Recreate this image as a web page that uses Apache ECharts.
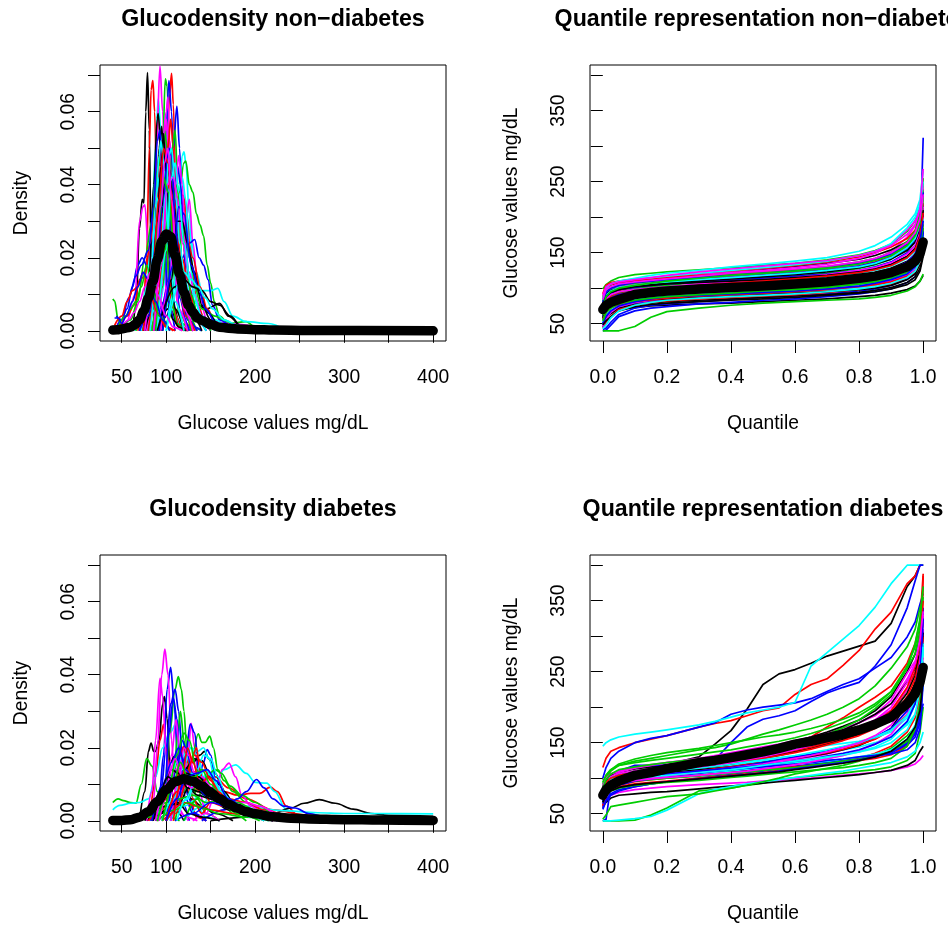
<!DOCTYPE html>
<html><head><meta charset="utf-8">
<style>html,body{margin:0;padding:0;background:#fff}#c{width:948px;height:926px}</style>
<script src="https://cdn.jsdelivr.net/npm/echarts@6/dist/echarts.min.js"></script>
</head><body><div id="c"></div>
<script>
const palette = ['#000000','#ff0000','#00cd00','#0000ff','#00ffff','#ff00ff'];

const densityTicksX = [50,100,150,200,250,300,350,400];
const densityLabelsX = [50,100,200,300,400];
const densityTicksY = [0,.01,.02,.03,.04,.05,.06,.07];
const densityLabelsY = [0,.02,.04,.06];
const quantileTicksX = [0,.2,.4,.6,.8,1];
const quantileTicksY = [50,100,150,200,250,300,350,400];
const quantileLabelsY = [50,150,250,350];

// flat x,y lists; colours cycle through the palette in order
const densityNonDiabetes = [
[62,0,66,.006,70,.028,73,.036,75,.035,77,.06,79,.0707,81,.055,83,.02,86,.004,92,0],
[68,0,74,.004,78,.02,81,.05,83,.066,85,.0685,87,.06,90,.03,94,.008,100,.001,108,0],
[40,.0087,42,.0082,46,.003,50,.0005,60,.001,70,.003,80,.005,90,.008,100,.03,108,.038,112,.03,120,.008,130,.001,140,0],
[44,.004,50,.003,56,.006,62,.012,68,.018,73,.02,78,.018,84,.024,90,.038,96,.046,100,.03,106,.01,114,.002,122,0],
[58,0,70,.003,78,.012,84,.03,88,.05,91,.0635,94,.055,98,.03,104,.012,112,.003,122,0],
[45,.002,55,.002,65,.01,70,.03,74,.034,76,.0345,80,.022,85,.018,89,.05,93,.0725,96,.06,100,.028,106,.007,114,.001,124,0],
[60,0,72,.002,80,.012,86,.04,90,.058,91,.0595,94,.05,98,.028,104,.008,112,.002,120,0],
[82,0,90,.004,96,.02,100,.045,104,.065,106,.0705,108,.062,111,.035,115,.012,122,.002,130,0],
[78,0,86,.006,92,.025,96,.05,99,.069,101,.067,104,.045,108,.02,114,.005,124,0],
[84,0,92,.006,97,.03,100,.055,103,.0685,106,.06,110,.03,115,.009,124,.001,130,0],
[88,0,100,.006,108,.018,114,.035,118,.048,120,.049,122,.046,126,.032,130,.016,136,.006,146,.001,160,0],
[80,0,88,.006,92,.02,97,.042,100,.058,103,.05,107,.028,112,.008,120,.001,130,0],
[72,0,82,.008,88,.03,92,.05,95,.056,98,.042,102,.022,108,.007,116,.001,124,0],
[76,0,84,.006,88,.02,92,.045,95,.052,98,.04,102,.018,108,.005,118,0],
[82,0,92,.002,100,.008,108,.02,114,.036,120,.046,122,.0465,126,.04,130,.038,134,.032,138,.029,142,.026,146,.018,150,.013,154,.008,160,.004,170,.002,190,.0025,200,.001,230,0],
[86,0,98,.008,104,.028,108,.05,112,.0615,115,.05,119,.025,124,.008,132,.001,140,0],
[70,0,90,.006,105,.02,112,.03,120,.037,128,.025,134,.016,140,.011,150,.011,158,.0116,165,.008,175,.004,190,.0025,215,.002,235,0],
[84,0,96,.006,104,.02,110,.032,116,.032,122,.03,126,.036,130,.024,136,.01,146,.003,170,.002,220,0],
[90,0,102,.006,108,.02,113,.03,116,.032,120,.03,125,.022,132,.016,140,.007,150,.003,165,.001,180,0],
[92,0,104,.012,110,.03,115,.038,119,.037,123,.032,128,.018,135,.007,145,.002,160,0],
[80,0,90,.015,95,.04,98,.055,101,.05,105,.03,110,.012,118,.002,126,0],
[88,0,100,.004,110,.012,118,.02,126,.024,132,.025,137,.02,142,.018,147,.014,152,.007,160,.003,175,.001,190,0],
[76,0,84,.01,88,.03,92,.042,96,.038,100,.02,106,.006,116,0],
[90,0,98,.014,102,.03,105,.048,108,.05,112,.035,116,.018,122,.005,132,0],
[60,0,75,.004,85,.012,95,.02,103,.022,110,.018,120,.012,130,.008,145,.006,160,.0075,170,.004,185,0],
[48,.001,56,.004,64,.007,70,.014,76,.015,82,.024,88,.036,94,.04,99,.025,106,.008,115,.001,125,0],
[50,.001,60,.003,68,.008,76,.02,84,.03,90,.044,94,.048,98,.035,104,.012,112,.002,120,0],
[44,.001,50,.003,58,.009,66,.015,72,.018,80,.022,86,.034,90,.052,93,.055,97,.03,102,.008,110,0],
[65,0,80,.006,92,.02,100,.03,104,.04,107,.036,112,.025,120,.014,128,.01,135,.012,145,.006,155,.003,170,.001,185,0],
[86,0,94,.01,100,.034,104,.052,107,.044,110,.03,116,.012,124,.003,134,0],
[94,0,100,.004,104,.005,108,.003,114,.001,122,0],
[70,0,90,.012,100,.024,108,.03,114,.037,120,.034,124,.025,130,.02,138,.012,146,.006,156,.002,170,0],
[95,0,103,.003,110,.014,116,.025,120,.03,126,.02,132,.012,140,.006,155,.004,165,.003,180,0],
[70,0,80,.006,85,.02,90,.03,94,.042,98,.048,103,.035,108,.02,116,.005,126,0],
[100,0,108,.01,114,.03,118,.042,122,.036,126,.02,132,.008,142,.002,150,0],
[78,0,86,.008,90,.026,96,.052,100,.06,102,.064,104,.05,108,.025,114,.006,124,0],
[74,0,84,.01,90,.03,94,.045,97,.054,100,.04,104,.02,110,.006,120,0],
[86,0,94,.012,98,.03,102,.05,105,.058,108,.05,112,.028,118,.008,128,0],
[88,0,96,.012,102,.032,107,.05,110,.055,113,.04,118,.018,124,.005,134,0],
[92,0,102,.012,108,.032,113,.045,116,.04,120,.028,126,.012,134,.003,145,0],
[72,0,82,.012,88,.034,92,.048,94,.052,98,.044,103,.024,110,.008,120,0],
[94,0,104,.014,110,.036,114,.048,118,.04,122,.022,128,.009,138,.002,150,0],
[76,0,85,.006,92,.024,98,.04,104,.044,109,.034,114,.022,120,.012,128,.005,140,0],
[80,0,90,.012,96,.032,101,.04,106,.038,112,.026,118,.02,124,.014,132,.006,145,.001,160,0],
[84,0,92,.01,100,.026,107,.034,112,.04,116,.032,122,.02,128,.01,136,.004,150,0],
[70,0,80,.004,88,.016,96,.034,103,.05,106,.048,110,.03,116,.012,124,.003,135,0],
[82,0,92,.016,100,.038,103,.048,106,.05,110,.04,115,.024,122,.01,130,.004,145,0],
[86,0,95,.018,101,.04,108,.042,113,.036,118,.024,126,.016,132,.01,140,.004,155,0],
[96,0,106,.014,112,.03,118,.03,124,.024,130,.016,138,.01,146,.005,160,0],
[74,0,84,.014,92,.036,97,.05,102,.046,108,.026,114,.012,122,.004,132,0],
[66,0,76,.005,84,.012,92,.03,97,.042,102,.038,110,.02,118,.008,128,0],
[96,0,108,.018,114,.034,120,.032,128,.018,136,.012,144,.006,156,.002,170,0],
[90,0,100,.022,106,.042,110,.046,114,.038,120,.024,128,.012,140,.004,155,0],
[76,0,86,.014,94,.034,98,.046,102,.05,106,.036,112,.018,120,.006,130,0],
[90,0,110,.012,120,.014,130,.012,140,.011,150,.008,160,.007,172,.004,185,.001,200,0],
[42,.0015,50,.004,56,.008,62,.011,68,.012,74,.016,80,.012,90,.005,100,.001,110,0],
[46,.001,54,.004,60,.006,66,.008,72,.012,78,.018,84,.012,92,.004,104,0],
[42,.0035,46,.0035,50,.002,55,.004,62,.008,68,.012,74,.016,80,.014,88,.008,96,.003,104,0],
[100,0,120,.016,128,.014,136,.012,144,.009,152,.006,165,.003,180,.0015,200,0],
[50,.001,58,.003,64,.005,70,.008,76,.012,82,.016,90,.01,100,.004,108,.001,118,0]
];
const densityNonDiabetesMean = [40,.0002,45,.0003,50,.0005,60,.001,65,.0017,70,.003,75,.0055,80,.009,85,.0135,90,.0195,95,.0245,100,.0265,105,.0258,110,.0205,115,.0155,120,.0105,125,.007,130,.005,135,.0035,140,.0028,150,.0017,160,.001,170,.0007,180,.0005,200,.0003,220,.0002,260,.0001,400,0];

const densityDiabetes = [
[70,0,76,.008,80,.019,83,.0213,86,.019,88,.019,92,.022,96,.032,98,.034,101,.028,105,.01,110,.003,120,0],
[72,0,82,.004,88,.012,93,.022,97,.0264,100,.02,104,.012,108,.012,112,.016,116,.019,120,.0204,123,.015,127,.006,134,.001,145,0],
[40,.005,46,.006,52,.0055,60,.005,66,.0048,72,.01,78,.017,84,.015,90,.008,96,.003,104,.001,115,0],
[85,0,92,.006,97,.018,101,.036,105,.042,109,.032,113,.016,118,.005,126,0],
[40,.003,48,.0042,60,.0048,70,.005,80,.006,88,.012,96,.02,104,.024,113,.0275,118,.022,124,.012,132,.005,145,.001,160,0],
[80,0,86,.006,90,.02,95,.04,98.5,.047,102,.04,106,.022,110,.008,116,.002,125,0],
[78,0,90,.002,100,.01,105,.016,109,.0176,114,.015,120,.01,128,.006,140,.004,155,.002,175,0],
[90,0,105,.002,115,.008,125,.011,135,.008,150,.009,165,.008,180,.007,195,.0075,205,.0075,217,.0092,225,.008,235,.004,250,.001,270,0],
[88,0,98,.008,104,.024,110,.036,113.6,.0395,117,.036,120,.03,123,.02,128,.012,135,.006,145,.002,160,0],
[82,0,94,.008,100,.02,105,.032,110,.036,114,.03,118,.018,124,.007,132,.002,145,0],
[120,0,140,.004,155,.01,165,.014,178,.0153,190,.013,200,.0105,213,.0103,222,.008,235,.003,250,.0005,265,0],
[78,0,84,.008,88,.022,93,.039,96,.034,100,.018,106,.008,112,.004,122,.001,135,0],
[150,0,190,.001,220,.002,240,.0035,255,.0048,272,.0058,290,.0048,310,.0032,330,.002,350,.0015,400,.0012],
[80,0,95,.003,110,.01,125,.013,140,.014,155,.012,170,.009,190,.006,220,.003,260,.0015,300,.001,400,.0008],
[100,0,108,.01,113,.024,116,.03,120,.022,125,.012,132,.008,140,.01,150,.012,160,.006,175,.002,190,0],
[90,0,98,.006,103,.024,108,.0336,112,.028,116,.014,122,.006,130,.002,145,0],
[100,0,120,.004,140,.007,160,.006,190,.004,230,.0028,270,.0022,300,.002,340,.002,400,.0019],
[90,0,100,.006,106,.018,111,.0277,115,.02,119,.012,124,.016,128,.0267,132,.02,137,.008,145,.002,160,0],
[85,0,100,.006,110,.012,120,.014,130,.016,138,.018,143,.019,148,.017,151,.016,155,.013,165,.008,180,.003,200,.001,220,0],
[100,0,110,.006,116,.018,120,.0204,124,.016,130,.006,140,.002,150,.005,160,.006,180,.003,210,.001,240,0],
[110,0,120,.008,128,.016,136,.0238,140,.0215,144,.0215,149,.0232,153,.02,158,.014,165,.011,175,.008,190,.005,210,.002,240,0],
[105,0,115,.006,122,.018,127,.0265,132,.024,137,.012,142,.016,146,.0195,150,.018,156,.01,165,.006,185,.003,205,.001,225,0],
[95,0,108,.006,118,.014,128,.02,135,.019,142,.02,148,.017,155,.011,165,.006,180,.003,200,.001,220,0],
[130,0,145,.002,155,.007,163,.014,170.6,.0158,178,.012,185,.007,195,.004,210,.002,230,0],
[88,0,100,.003,112,.008,122,.014,130,.017,140,.0165,150,.012,160,.01,170,.006,190,.002,220,0],
[60,0,80,.002,95,.005,110,.01,125,.0105,140,.008,155,.007,170,.006,190,.005,210,.003,240,.0012,280,.0005],
[120,0,135,.006,145,.012,155,.014,162,.013,172,.0095,185,.007,200,.005,220,.002,240,0],
[140,0,165,.003,180,.006,190,.008,201.5,.0113,210,.009,220,.006,232,.004,245,.0035,260,.002,280,.001,300,0],
[90,0,105,.012,112,.016,120,.018,128,.02,135,.018,142,.012,150,.008,165,.005,185,.002,210,0],
[95,0,105,.004,115,.008,125,.01,135,.014,145,.01,155,.006,170,.005,190,.005,205,.004,225,.002,250,0],
[70,0,85,.003,100,.004,115,.005,125,.009,135,.007,150,.006,170,.003,200,.001,230,0],
[95,0,110,.002,125,.012,130,.018,134,.02,138,.014,142,.008,150,.005,165,.004,185,.002,210,0],
[60,0,80,.001,100,.005,115,.006,130,.007,145,.005,165,.006,180,.005,200,.003,225,.001,250,0],
[100,0,112,.014,118,.022,122,.02,130,.013,140,.012,150,.008,165,.005,180,.003,200,.001,220,0],
[104,0,125,.006,135,.014,142,.018,150,.017,158,.012,168,.006,185,.002,210,0],
[105,0,115,.012,120,.02,125,.018,132,.013,140,.01,150,.008,165,.006,185,.003,210,.001,240,0],
[84,0,95,.002,105,.0045,115,.0045,125,.002,140,.001,160,0],
[100,0,120,.005,135,.004,150,.003,175,.002,210,.001,250,0],
[90,0,110,.003,125,.005,140,.0035,160,.002,190,.001,220,0],
[110,0,130,.002,150,.005,170,.004,190,.002,220,.001,260,0],
[95,0,108,.006,118,.012,128,.013,140,.012,150,.013,160,.008,175,.004,195,.001,215,0],
[92,0,102,.008,110,.014,118,.015,128,.012,140,.011,155,.006,175,.003,200,.001,225,0],
[84,0,96,.006,106,.014,114,.013,124,.009,136,.008,150,.006,170,.004,195,.002,225,0],
[100,0,112,.008,122,.013,132,.018,140,.016,150,.011,162,.007,180,.004,205,.002,235,0],
[90,0,102,.008,112,.018,120,.024,126,.022,134,.014,144,.009,160,.005,180,.002,205,0],
[84,0,96,.01,106,.016,114,.02,122,.014,132,.01,145,.007,165,.004,190,.002,220,0],
[112,0,122,.006,134,.012,144,.014,152,.012,162,.008,175,.005,195,.002,225,0],
[88,0,100,.01,110,.017,118,.012,128,.009,140,.012,152,.009,168,.005,190,.002,220,0],
[76,0,90,.006,102,.012,112,.01,122,.013,136,.012,150,.009,170,.004,200,.001,230,0],
[108,0,118,.012,124,.02,130,.016,138,.01,148,.012,158,.008,175,.004,195,.002,220,0],
[96,0,108,.01,116,.016,124,.012,132,.012,140,.014,150,.01,165,.005,190,.002,215,0],
[100,0,112,.006,122,.012,134,.013,146,.014,156,.011,170,.006,190,.003,215,.001,240,0]
];
const densityDiabetesMean = [40,.0001,50,.0001,60,.0003,70,.001,80,.0025,90,.0053,100,.0085,110,.0107,120,.0115,130,.0108,140,.0095,150,.0076,160,.006,170,.0045,180,.0034,190,.0025,200,.0019,220,.0011,240,.0007,260,.0005,300,.0003,340,.0002,400,.0001];

const quantileGridNonDiabetes = [0,.01,.025,.05,.1,.15,.2,.3,.4,.5,.6,.7,.8,.85,.9,.95,.975,.99,1];
const quantileNonDiabetes = [
[55,62,66,70,73,75,76,78,79,81,83,85,88,90,93,98,103,110,118],
[60,72,78,84,89,92,94,97,100,103,106,110,115,119,124,133,143,160,180],
[99,105,110,115,119,121,123,126,129,132,135,140,147,153,162,180,195,215,240],
[40,41,48,60,68,72,74,78,80,83,85,88,92,95,99,108,116,165,312],
[80,96,104,110,114,118,121,125,130,134,138,143,152,160,172,190,205,225,265],
[62,75,80,84,88,90,92,95,98,100,103,106,110,113,117,125,135,150,172],
[65,80,86,92,97,99,101,105,108,111,114,118,124,128,134,145,155,172,205],
[70,85,92,97,101,104,106,109,112,116,120,125,132,137,145,158,170,188,225],
[40,40,40,40,46,59,67,72,76,79,81,83,85,87,90,96,102,110,120],
[45,60,68,74,79,82,84,87,90,93,95,98,102,105,110,118,128,142,170],
[52,66,74,80,84,87,89,92,95,97,100,103,107,110,114,124,132,148,180],
[75,90,97,102,106,108,110,113,116,119,122,126,133,140,152,172,188,205,240],
[85,100,105,108,110,112,114,118,122,126,130,135,141,146,154,165,176,195,235],
[92,104,108,110,112,114,116,120,124,128,132,137,144,150,158,170,182,200,250],
[58,68,74,79,83,85,87,90,93,95,98,101,105,108,113,122,130,145,175],
[42,44,52,63,72,76,78,81,84,87,89,92,96,99,104,113,122,135,160],
[68,80,87,92,96,98,100,103,106,109,112,116,121,125,131,142,152,168,200],
[56,70,76,81,85,88,90,93,96,99,101,104,109,112,117,126,135,150,190],
[72,84,90,94,97,100,102,104,106,108,110,113,118,122,128,138,146,160,185],
[62,76,82,87,91,93,95,98,100,102,104,108,113,117,123,134,144,160,210],
[66,80,88,94,99,102,104,108,111,114,117,121,128,133,141,155,170,195,238],
[70,86,93,99,103,106,108,112,115,118,121,125,131,136,143,156,168,182,220],
[48,60,69,77,82,84,86,88,90,92,94,97,101,104,109,118,127,142,175],
[78,92,98,103,108,111,114,119,122,125,129,134,142,149,162,182,195,210,245],
[50,58,64,72,77,79,81,83,85,87,89,91,94,97,101,108,116,128,150],
[88,100,105,108,111,113,115,118,120,123,126,130,136,141,148,160,172,190,220],
[60,70,77,82,86,89,91,94,97,99,102,105,110,114,120,130,140,155,185],
[74,88,94,98,101,104,106,109,111,114,117,120,125,130,137,150,160,175,205],
[55,64,72,78,84,87,89,91,93,95,97,100,104,107,112,120,128,140,165],
[64,78,84,89,93,95,97,100,103,105,107,110,115,119,125,136,146,165,200],
[78,92,97,100,103,105,107,110,113,116,119,123,129,134,141,153,165,180,215],
[44,52,60,70,76,80,82,85,87,89,91,94,98,101,106,115,122,136,168],
[82,95,100,104,107,110,112,116,119,122,125,130,137,142,150,166,180,205,255],
[60,74,80,85,90,92,94,96,98,100,102,105,108,112,116,126,134,150,178],
[76,90,96,101,104,107,109,112,115,118,121,125,130,135,143,157,170,192,228],
[46,56,66,74,80,83,85,88,91,94,96,99,103,106,110,118,126,140,162],
[58,70,76,80,82,84,85,87,89,91,93,95,98,100,104,112,120,134,160],
[70,82,88,92,95,97,99,102,104,106,108,111,116,120,126,136,148,165,195],
[62,74,80,85,88,90,92,94,96,98,100,102,106,109,114,122,132,148,172],
[80,94,100,104,108,110,112,115,118,121,124,128,135,140,148,162,175,195,235],
[86,100,106,110,113,115,117,121,125,129,133,138,146,152,163,185,200,218,250],
[72,85,91,95,98,100,102,106,109,112,115,119,125,129,136,148,160,178,215],
[76,88,94,98,102,104,106,108,110,112,115,118,123,127,133,144,156,174,210],
[56,66,72,77,81,84,86,89,91,93,95,98,102,105,109,117,124,137,158],
[74,88,95,100,104,107,110,114,118,121,124,128,134,139,146,160,174,192,228],
[50,60,68,75,81,85,88,90,92,94,96,99,103,107,112,120,130,145,180],
[64,78,85,90,94,96,98,101,103,105,107,110,114,118,124,134,146,164,198],
[90,102,106,109,112,115,118,123,127,131,135,139,146,152,160,176,190,212,268],
[48,54,60,68,74,77,79,81,83,85,87,90,93,95,99,105,112,124,145],
[68,80,86,90,94,97,100,104,107,110,113,117,122,126,132,143,154,172,206],
[54,66,72,78,83,86,88,91,93,96,98,101,106,110,116,126,138,156,190],
[66,80,86,91,95,98,100,103,105,107,109,112,116,120,126,137,148,166,195],
[43,48,58,68,76,80,83,86,88,90,92,95,99,102,107,115,124,138,170],
[84,98,102,106,109,111,113,117,121,124,127,131,137,142,150,164,178,198,232]
];
const quantileNonDiabetesMean = [70,76,80,84,91,94,96,99,101,103,106,109,114,117,122,130,138,148,165];

const quantileGridDiabetes = [0,.01,.025,.05,.1,.15,.2,.3,.35,.4,.45,.5,.55,.6,.65,.7,.75,.8,.85,.9,.95,.975,.99,1];
const quantileDiabetes = [
[97,100,104,108,113,116,119,130,148,167,197,232,247,253,262,272,279,286,293,318,370,385,400,400],
[115,128,138,143,150,155,160,172,177,181,188,195,199,218,232,240,259,280,310,334,374,385,400,400],
[40,40,40,40,41,48,58,82,84,86,90,93,98,101,103,105,107,110,112,116,125,135,165,200],
[100,115,128,138,150,156,160,172,178,190,196,200,203,206,212,222,232,240,255,270,299,320,345,360],
[145,150,154,158,162,165,168,175,180,186,192,196,200,207,258,277,296,315,341,374,400,400,400,400],
[62,70,76,80,84,86,88,91,92,93,94,96,97,99,100,102,104,106,108,111,116,120,126,132],
[60,66,72,76,78,80,81,85,87,89,91,93,95,97,99,101,103,105,108,111,118,125,138,145],
[60,75,85,92,98,102,106,112,118,124,130,136,142,148,158,172,185,200,214,230,262,290,320,388],
[90,100,110,118,124,128,132,140,143,148,155,162,168,175,182,190,200,212,230,255,285,310,340,350],
[40,42,90,110,118,118,118,122,126,150,172,183,188,195,208,220,228,235,258,288,340,378,400,400],
[40,40,40,41,43,46,55,78,84,88,92,95,98,101,104,107,110,114,118,122,130,138,150,165],
[85,95,102,108,114,118,122,128,132,136,140,144,148,153,158,164,170,178,188,205,240,262,285,340],
[80,92,98,104,110,114,118,125,129,132,137,141,146,152,158,165,173,182,195,215,250,275,305,330],
[70,82,90,96,102,106,110,115,118,122,126,130,134,138,144,150,156,165,176,192,225,250,280,320],
[42,48,60,62,66,70,74,78,82,86,90,95,100,106,110,114,118,124,132,142,160,172,190,260],
[58,70,78,84,88,92,95,100,103,105,108,110,113,116,119,122,125,128,132,136,146,158,178,240],
[72,88,96,100,104,106,108,112,115,118,121,124,127,130,133,136,140,144,150,158,175,190,215,265],
[82,94,100,106,110,113,116,122,125,128,132,136,141,146,152,160,168,178,190,210,248,265,285,300],
[88,96,100,104,108,110,112,116,119,122,126,130,134,138,143,148,154,162,172,186,212,232,262,310],
[66,78,84,88,92,94,96,100,102,104,106,108,111,114,117,120,124,128,135,145,165,185,220,290],
[92,104,112,120,127,132,136,142,146,150,154,158,161,165,170,176,183,192,205,222,255,275,305,370],
[74,84,90,94,98,100,102,105,107,109,111,113,115,117,119,122,124,127,131,137,150,165,190,310],
[68,80,88,94,98,100,102,106,108,110,113,116,119,122,125,128,132,137,144,155,178,205,245,280],
[76,86,92,96,100,102,104,108,110,113,116,119,122,126,130,134,140,147,156,170,195,225,270,310],
[84,92,98,102,106,108,110,114,118,122,127,133,138,145,152,160,168,178,190,205,235,255,275,290],
[62,74,84,90,95,98,100,104,106,108,110,112,114,116,118,120,122,125,128,133,145,170,210,385],
[70,80,86,92,96,98,100,103,105,107,109,111,113,115,118,121,124,127,132,138,152,170,195,200],
[56,68,76,82,88,92,95,99,101,103,105,107,110,113,116,119,122,126,130,136,148,162,185,205],
[76,88,94,98,101,103,105,108,110,112,114,116,118,120,122,124,127,130,134,140,155,175,205,230],
[90,100,106,110,115,119,122,126,129,132,135,139,143,148,153,158,164,172,182,196,225,260,290,320],
[78,90,95,100,104,106,108,112,114,116,119,122,125,128,131,135,140,146,156,170,205,235,270,300],
[72,85,92,96,100,103,106,110,113,116,119,122,125,129,132,136,141,147,155,168,190,215,250,300],
[66,76,82,86,90,92,94,97,99,101,103,105,107,109,111,113,115,118,122,128,145,170,205,250],
[64,76,84,90,96,99,102,107,110,112,114,116,118,120,122,125,127,130,132,134,140,150,170,235],
[80,94,100,104,107,110,113,118,122,126,130,134,137,140,143,146,149,152,157,165,185,205,235,275],
[72,84,90,94,97,99,101,104,106,108,110,113,116,119,123,127,132,139,148,162,190,215,245,270],
[74,86,92,97,102,105,108,114,117,120,124,128,132,137,142,148,155,163,175,190,220,245,275,305],
[78,90,96,100,104,107,110,116,119,122,125,128,132,136,141,147,153,160,170,185,215,240,270,330],
[94,104,112,118,122,125,128,134,137,140,144,148,152,157,163,170,178,188,202,222,258,285,315,355],
[68,82,90,96,100,103,105,110,112,115,118,122,126,130,134,139,144,150,158,170,195,225,265,340],
[82,92,98,102,106,108,110,114,117,120,123,126,129,132,136,140,145,150,158,168,188,208,240,290],
[70,82,88,93,97,100,103,108,111,114,117,120,124,128,132,137,143,150,160,175,205,230,262,330],
[66,76,82,87,91,93,95,99,101,103,105,107,109,112,115,118,121,125,130,138,155,172,195,240],
[84,94,100,104,108,111,114,119,122,125,128,131,135,139,144,150,157,166,178,195,228,258,290,350],
[86,98,106,112,116,119,122,127,130,133,136,140,144,149,155,162,171,182,198,218,255,290,325,370],
[76,88,94,98,102,104,106,110,112,114,116,118,121,124,127,131,135,140,148,158,180,205,240,325],
[74,84,90,95,99,102,104,108,110,112,115,118,121,124,127,130,133,137,142,150,168,190,225,285],
[80,90,96,101,106,109,112,116,119,122,126,130,135,140,146,153,161,170,182,200,235,262,295,335]
];
const quantileDiabetesMean = [76,84,90,96,104,108,113,122,125,129,133,137,142,148,152,157,162,168,176,186,205,219,235,256];

const FONT = '"Liberation Sans", Helvetica, Arial, sans-serif';
const pairs = flat => { const o=[]; for(let i=0;i<flat.length;i+=2) o.push([flat[i],flat[i+1]]); return o; };
const onGrid = (g,ys) => ys.map((y,i)=>[g[i],y]);

const panels = [
 {title:'Glucodensity non\u2212diabetes',cx:273,left:100,top:65,xr:[25.6,414.4],yr:[-.0028,.0728],xn:'Glucose values mg/dL',yn:'Density',
  xt:densityTicksX,xl:densityLabelsX,yt:densityTicksY,yl:densityLabelsY,xf:v=>String(v),yf:v=>v.toFixed(2),
  curves:densityNonDiabetes.map(pairs),mean:pairs(densityNonDiabetesMean),smooth:true},
 {title:'Quantile representation non\u2212diabetes',cx:763,left:590,top:65,xr:[-.04,1.04],yr:[25.6,414.4],xn:'Quantile',yn:'Glucose values mg/dL',
  xt:quantileTicksX,xl:quantileTicksX,yt:quantileTicksY,yl:quantileLabelsY,xf:v=>v.toFixed(1),yf:v=>String(v),
  curves:quantileNonDiabetes.map(c=>onGrid(quantileGridNonDiabetes,c)),mean:onGrid(quantileGridNonDiabetes,quantileNonDiabetesMean),smooth:false},
 {title:'Glucodensity diabetes',cx:273,left:100,top:555,xr:[25.6,414.4],yr:[-.0028,.0728],xn:'Glucose values mg/dL',yn:'Density',
  xt:densityTicksX,xl:densityLabelsX,yt:densityTicksY,yl:densityLabelsY,xf:v=>String(v),yf:v=>v.toFixed(2),
  curves:densityDiabetes.map(pairs),mean:pairs(densityDiabetesMean),smooth:true},
 {title:'Quantile representation diabetes',cx:763,left:590,top:555,xr:[-.04,1.04],yr:[25.6,414.4],xn:'Quantile',yn:'Glucose values mg/dL',
  xt:quantileTicksX,xl:quantileTicksX,yt:quantileTicksY,yl:quantileLabelsY,xf:v=>v.toFixed(1),yf:v=>String(v),
  curves:quantileDiabetes.map(c=>onGrid(quantileGridDiabetes,c)),mean:onGrid(quantileGridDiabetes,quantileDiabetesMean),smooth:false}
];

const grid=[],xAxis=[],yAxis=[],series=[],title=[];
panels.forEach((p,i)=>{
  grid.push({left:p.left,top:p.top,width:346,height:276,show:true,borderColor:'#000',borderWidth:1,backgroundColor:'transparent'});
  title.push({text:p.title,left:p.cx,top:p.top-56.6,padding:0,textAlign:'center',textStyle:{fontFamily:FONT,fontSize:23.2,fontWeight:'bold',color:'#000'}});
  const tick={show:true,length:12,inside:false,lineStyle:{color:'#000',width:1}};
  xAxis.push({type:'value',gridIndex:i,min:p.xr[0],max:p.xr[1],name:p.xn,nameLocation:'middle',nameGap:73,
    nameTextStyle:{fontFamily:FONT,fontSize:19.3,color:'#000'},
    axisLine:{show:false},splitLine:{show:false},
    axisTick:{...tick,customValues:p.xt},
    axisLabel:{show:true,margin:27,fontFamily:FONT,fontSize:19.3,color:'#000',customValues:p.xl,formatter:p.xf,hideOverlap:false}});
  yAxis.push({type:'value',gridIndex:i,min:p.yr[0],max:p.yr[1],name:p.yn,nameLocation:'middle',nameGap:69,
    nameTextStyle:{fontFamily:FONT,fontSize:19.3,color:'#000'},
    axisLine:{show:false},splitLine:{show:false},
    axisTick:{...tick,customValues:p.yt},
    axisLabel:{show:true,rotate:90,margin:22,fontFamily:FONT,fontSize:19.3,color:'#000',customValues:p.yl,formatter:p.yf,hideOverlap:false}});
  const base={type:'line',xAxisIndex:i,yAxisIndex:i,showSymbol:false,symbol:'none',silent:true,animation:false};
  p.curves.forEach((d,j)=>series.push({...base,data:d,smooth:p.smooth?0.35:false,smoothMonotone:p.smooth?'x':undefined,
    lineStyle:{color:palette[j%6],width:1.7,join:'round'}}));
  series.push({...base,data:p.mean,smooth:p.smooth?0.35:false,smoothMonotone:p.smooth?'x':undefined,
    lineStyle:{color:'#000',width:9.5,cap:'round',join:'round'}});
});
const chart=echarts.init(document.getElementById('c'),null,{renderer:'canvas'});
chart.setOption({animation:false,backgroundColor:'#fff',title,grid,xAxis,yAxis,series});
</script></body></html>
